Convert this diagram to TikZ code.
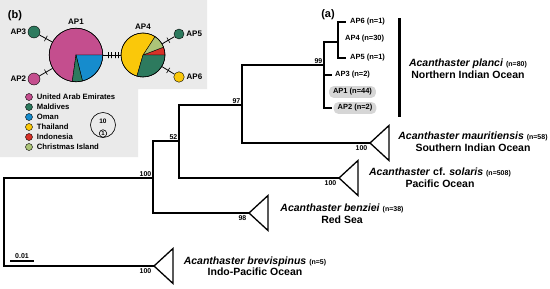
\documentclass[tikz,border=0pt]{standalone}
\usepackage{fontspec}
\setmainfont{Liberation Sans}
\usetikzlibrary{calc}
\newcommand\myfs[2]{\fontsize{#1}{#2}\selectfont}
\newcommand\pieslice[5]{\fill[#5,draw=black,line width=0.4pt] (#1) -- ++(#3:#2pt) arc[start angle=#3,end angle=#4,radius=#2pt] -- cycle;}
\definecolor{uae}{RGB}{196,78,142}
\definecolor{mal}{RGB}{45,122,94}
\definecolor{oma}{RGB}{22,140,205}
\definecolor{tha}{RGB}{250,200,10}
\definecolor{ind}{RGB}{215,50,40}
\definecolor{chr}{RGB}{172,196,120}
\definecolor{panel}{RGB}{234,234,234}
\definecolor{pill}{RGB}{214,214,214}
\begin{document}
\begin{tikzpicture}[x=1pt,y=-1pt,
  br/.style={line width=1.3pt, line cap=rect},
  tri/.style={line width=1.3pt, line join=miter},
  lab/.style={font=\bfseries\myfs{7.5}{9}, inner sep=0pt},
  blab/.style={font=\bfseries\myfs{7}{8}, inner sep=0.5pt},
  plab/.style={font=\bfseries\myfs{8}{9}, inner sep=0pt},
  pillbox/.style={lab, fill=pill, rounded corners=5pt, inner xsep=4pt, inner ysep=2.5pt},
  sp/.style={font=\bfseries\myfs{10.5}{11.5}, align=center, inner sep=0pt},
  dot/.style={circle, draw=black, line width=0.4pt, inner sep=0pt},
  legdot/.style={dot, minimum size=7pt},
  tickm/.style={sloped, draw, line width=0.6pt, inner sep=0pt, minimum width=0pt, minimum height=6pt},
  link/.style={line width=0.8pt}]
\useasboundingbox (0,0) rectangle (550,289);
\fill[white] (0,0) rectangle (550,289);
% ---------- panel (b)
\fill[panel] (0,0) -- (207,0) -- (207,89) -- (138,89) -- (138,157) -- (0,157) -- cycle;
\node[font=\bfseries\myfs{11}{12}, inner sep=0pt] (lb) at (15,16) {(b)};
\coordinate (c1) at (76,55);
\coordinate (c4) at (143,55);
\pieslice{c1}{26.8}{0}{262}{uae}
\pieslice{c1}{26.8}{-76}{0}{oma}
\pieslice{c1}{26.8}{-98}{-76}{mal}
\pieslice{c4}{22}{0}{21}{ind}
\pieslice{c4}{22}{21}{57}{chr}
\pieslice{c4}{22}{57}{254}{tha}
\pieslice{c4}{22}{-106}{0}{mal}
\node[circle, draw=black, line width=0.6pt, minimum size=53.6pt, inner sep=0pt] (AP1) at (c1) {};
\node[circle, draw=black, line width=0.6pt, minimum size=44pt, inner sep=0pt] (AP4) at (c4) {};
\node[dot, fill=mal, minimum size=12pt] (AP3) at (34,32) {};
\node[dot, fill=uae, minimum size=12pt] (AP2) at (34,79) {};
\node[dot, fill=mal, minimum size=10pt] (AP5) at (179,34) {};
\node[dot, fill=tha, minimum size=10.5pt] (AP6) at (179,77) {};
\node[plab] at (76,22) {AP1};
\node[plab] at (143,27) {AP4};
\node[plab, anchor=east] at ([xshift=-1.5pt]AP3.west) {AP3};
\node[plab, anchor=east] at ([xshift=-1.5pt]AP2.west) {AP2};
\node[plab, anchor=west] at ([xshift=2pt]AP5.east) {AP5};
\node[plab, anchor=west] at ([xshift=2pt]AP6.east) {AP6};
\draw[link] (AP3) -- node[tickm]{} (AP1);
\draw[link] (AP2) -- node[tickm]{} (AP1);
\draw[link] (AP4) -- node[tickm]{} (AP5);
\draw[link] (AP4) -- node[tickm]{} (AP6);
\draw[link] (AP1) -- node[tickm, pos=0.29]{} node[tickm, pos=0.48]{} node[tickm, pos=0.67]{} node[tickm, pos=0.86]{} (AP4);
% legend
\foreach \c/\t [count=\i] in {uae/United Arab Emirates, mal/Maldives, oma/Oman, tha/Thailand, ind/Indonesia, chr/Christmas Island}{
  \node[legdot, fill=\c] (lg\i) at (29,87+10*\i) {};
  \node[font=\bfseries\myfs{7.7}{9}, anchor=west, inner sep=0pt] (lt\i) at ([xshift=4pt]lg\i.east) {\t};
}
\node[circle, draw=black, line width=0.6pt, minimum size=25pt, inner sep=0pt] (sc10) at (103,125) {};
\node[circle, draw=black, line width=0.6pt, minimum size=7.5pt, inner sep=0pt, font=\bfseries\myfs{6}{6}] (sc1) at (103,133.5) {1};
\node[font=\bfseries\myfs{6.5}{7}, inner sep=0pt] (t10) at (103,121.5) {10};
% ---------- panel (a)
\node[font=\bfseries\myfs{11}{12}, inner sep=0pt] (la) at (328,15) {(a)};
\coordinate (root) at (4,220);
\coordinate (n100) at (153,178);
\coordinate (n52) at (179,141);
\coordinate (n97) at (242,105);
\coordinate (n99) at (324,65);
\coordinate (nIn) at (338,42);
\coordinate (tM) at (370,143);
\coordinate (tS) at (339,178);
\coordinate (tZ) at (249,213);
\coordinate (tB) at (154,266);
\coordinate (lf6) at (345,22);
\coordinate (lf5) at (345,58);
\coordinate (lf3) at (331,75);
\coordinate (lf2) at (331,108);
\foreach \t in {tM,tS,tZ,tB}{\draw[tri] (\t) -- ++(19,-17.5) -- ++(0,35) -- cycle;}
\draw[br] (n100) -| (root) |- (tB);
\draw[br] (n52) -| (n100) |- (tZ);
\draw[br] (n97) -| (n52) |- (tS);
\draw[br] (n99) -| (n97) |- (tM);
\draw[br] (nIn) -| (n99) |- (lf2);
\draw[br] (n99 |- lf3) -- (lf3);
\draw[br] (lf6) -| (nIn) |- (lf5);
% support values
\node[blab, anchor=south east] at ([shift={(-1,-1)}]n100) {100};
\node[blab, anchor=south east] at ([shift={(-1,-1)}]n52) {52};
\node[blab, anchor=south east] at ([shift={(-1,-1)}]n97) {97};
\node[blab, anchor=south east] at ([shift={(-1,-1)}]n99) {99};
\node[blab, anchor=north east] at ([shift={(-2,2)}]tM) {100};
\node[blab, anchor=north east] at ([shift={(-2,2)}]tS) {100};
\node[blab, anchor=north east] at ([shift={(-2,2)}]tZ) {98};
\node[blab, anchor=north east] at ([shift={(-2,2)}]tB) {100};
% leaves
\node[lab, anchor=west] (L6) at (350,22) {AP6 (n=1)};
\node[lab, anchor=west] (L4) at (345,39) {AP4 (n=30)};
\node[lab, anchor=west] (L5) at (350,58) {AP5 (n=1)};
\node[lab, anchor=west] (L3) at (335,75) {AP3 (n=2)};
\node[pillbox] (L1) at (352.5,92) {AP1 (n=44)};
\node[pillbox] (L2) at (355,108) {AP2 (n=2)};
\draw[line width=3pt] (399,18) -- (399,117);
% species
\node[sp] (sP) at (468,68.5) {\textit{Acanthaster planci} {\myfs{7}{8}(n=80)}\\Northern Indian Ocean};
\node[sp] (sM) at (473,141.5) {\textit{Acanthaster mauritiensis} {\myfs{7}{8}(n=58)}\\Southern Indian Ocean};
\node[sp] (sS) at (440,177.5) {\textit{Acanthaster} cf. \textit{solaris} {\myfs{7}{8}(n=508)}\\Pacific Ocean};
\node[sp] (sZ) at (342,213.5) {\textit{Acanthaster benziei} {\myfs{7}{8}(n=38)}\\Red Sea};
\node[sp] (sB) at (255,266) {\textit{Acanthaster brevispinus} {\myfs{7}{8}(n=5)}\\Indo-Pacific Ocean};
% scale bar
\coordinate (sb1) at (10,261);
\coordinate (sb2) at (34,261);
\draw[line width=1.2pt] (sb1) -- (sb2);
\node[blab, anchor=south] at ([yshift=1.5pt]$(sb1)!0.5!(sb2)$) {0.01};
\end{tikzpicture}
\end{document}
